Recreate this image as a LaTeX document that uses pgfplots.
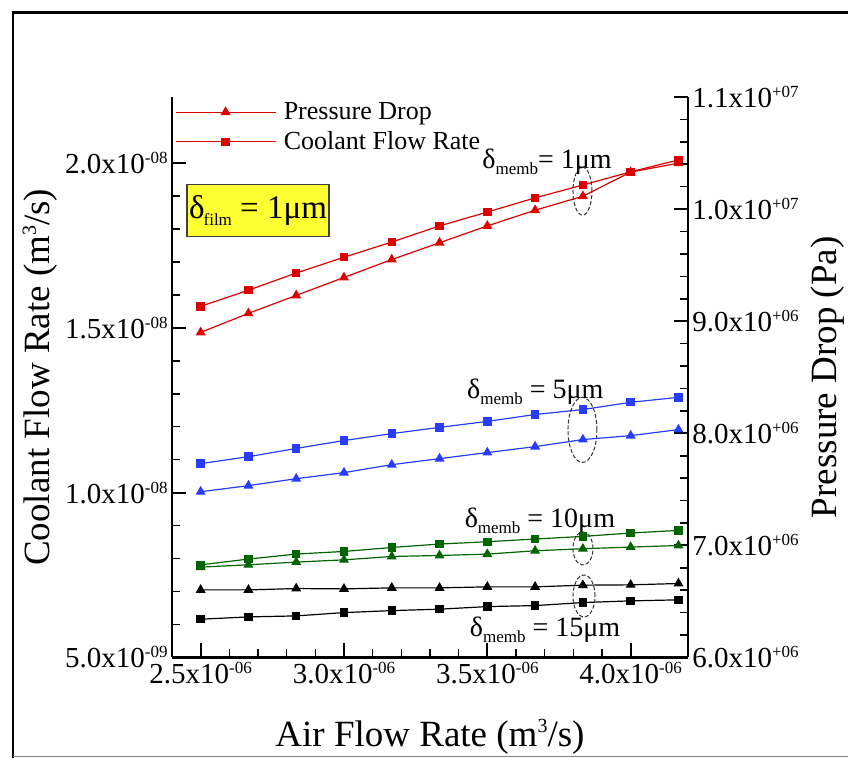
\documentclass[border=0pt]{standalone}
\usepackage{fontspec}
\setmainfont{Liberation Serif}
\usepackage{pgfplots}
\pgfplotsset{compat=1.18}
\usepackage{pgfplotstable}

\definecolor{cred}{RGB}{220,0,0}
\definecolor{cblue}{RGB}{40,60,255}
\definecolor{cgreen}{RGB}{0,100,0}
\definecolor{boxyellow}{RGB}{255,255,50}

% x = air flow rate, q = coolant flow rate, p = pressure drop
\pgfplotstableread{
x          q          p
2.5e-6     1.565e-8   8.90e6
2.6667e-6  1.614e-8   9.07e6
2.8333e-6  1.666e-8   9.23e6
3.0e-6     1.714e-8   9.39e6
3.1667e-6  1.760e-8   9.55e6
3.3333e-6  1.809e-8   9.70e6
3.5e-6     1.851e-8   9.85e6
3.6667e-6  1.894e-8   9.99e6
3.8333e-6  1.933e-8   1.0115e7
4.0e-6     1.973e-8   1.033e7
4.1667e-6  2.009e-8   1.041e7
}\memba
\pgfplotstableread{
x          q          p
2.5e-6     1.088e-8   7.479e6
2.6667e-6  1.109e-8   7.533e6
2.8333e-6  1.134e-8   7.595e6
3.0e-6     1.158e-8   7.649e6
3.1667e-6  1.179e-8   7.720e6
3.3333e-6  1.198e-8   7.774e6
3.5e-6     1.216e-8   7.828e6
3.6667e-6  1.237e-8   7.881e6
3.8333e-6  1.252e-8   7.944e6
4.0e-6     1.274e-8   7.979e6
4.1667e-6  1.289e-8   8.033e6
}\membb
\pgfplotstableread{
x          q          p
2.5e-6     7.81e-9    6.806e6
2.6667e-6  7.985e-9   6.827e6
2.8333e-6  8.137e-9   6.851e6
3.0e-6     8.216e-9   6.871e6
3.1667e-6  8.337e-9   6.901e6
3.3333e-6  8.441e-9   6.910e6
3.5e-6     8.511e-9   6.922e6
3.6667e-6  8.593e-9   6.952e6
3.8333e-6  8.672e-9   6.970e6
4.0e-6     8.775e-9   6.985e6
4.1667e-6  8.854e-9   6.999e6
}\membc
\pgfplotstableread{
x          q          p
2.5e-6     6.161e-9   6.603e6
2.6667e-6  6.231e-9   6.603e6
2.8333e-6  6.261e-9   6.615e6
3.0e-6     6.362e-9   6.612e6
3.1667e-6  6.422e-9   6.621e6
3.3333e-6  6.465e-9   6.621e6
3.5e-6     6.544e-9   6.630e6
3.6667e-6  6.574e-9   6.630e6
3.8333e-6  6.666e-9   6.645e6
4.0e-6     6.717e-9   6.648e6
4.1667e-6  6.748e-9   6.660e6
}\membd

\pgfplotsset{
  common/.style={
    width=258pt, height=280.25pt, scale only axis,
    xmin=2.4e-6, xmax=4.2e-6,
    scaled x ticks=false, scaled y ticks=false,
    axis line style={-, line width=1.3pt},
    tick align=inside,
    major tick length=7pt, minor tick length=4pt,
    major tick style={black, line width=1pt},
    minor tick style={black, line width=0.8pt},
    ticklabel style={font=\fontsize{14.5}{16}\selectfont, inner sep=2pt},
    label style={font=\fontsize{18.5}{20}\selectfont},
  },
  sq/.style={line width=0.6pt, mark=square*, mark size=1.8pt, mark options={solid}},
  tri/.style={line width=0.6pt, mark=triangle*, mark size=2.3pt, mark options={solid}},
}

\newcommand{\annot}{\fontsize{14}{16}\selectfont}
\newcommand{\sub}[1]{\raisebox{-0.45ex}{\fontsize{8.5}{9}\selectfont #1}}
\newcommand{\sps}[1]{\raisebox{0.75ex}{\fontsize{8.5}{9}\selectfont #1}}

\begin{document}
\begin{tikzpicture}
\useasboundingbox (-86pt,-50.25pt) rectangle (338pt,328.75pt);
\draw[line width=1.3pt] (-79.5pt,-52pt) -- (-79.5pt,322.5pt) -- (345pt,322.5pt);
\draw[gray, line width=0.8pt] (-79.5pt,-49.5pt) -- (345pt,-49.5pt);

\begin{axis}[common,
  axis x line*=bottom, axis y line*=left,
  ymin=5e-9, ymax=2.2e-8,
  xtick={2.5e-6,3e-6,3.5e-6,4e-6},
  xticklabels={2.5x10\sps{-06},3.0x10\sps{-06},3.5x10\sps{-06},4.0x10\sps{-06}},
  minor x tick num=4,
  ytick={5e-9,1e-8,1.5e-8,2e-8},
  yticklabels={5.0x10\sps{-09},1.0x10\sps{-08},1.5x10\sps{-08},2.0x10\sps{-08}},
  minor y tick num=4,
  xlabel={Air Flow Rate (m\raisebox{0.8ex}{\fontsize{10}{10}\selectfont 3}/s)},
  ylabel={Coolant Flow Rate (m\raisebox{0.8ex}{\fontsize{10}{10}\selectfont 3}/s)},
  xlabel style={at={(axis description cs:0.5,-0.142)}, anchor=center},
  ylabel style={at={(axis description cs:-0.256,0.5)}, anchor=center},
]
\addplot[cred, sq] table[x=x, y=q] {\memba};
\addplot[cblue, sq] table[x=x, y=q] {\membb};
\addplot[cgreen, sq] table[x=x, y=q] {\membc};
\addplot[black, sq] table[x=x, y=q] {\membd};

\node[draw=black!75, fill=boxyellow, line width=0.6pt, minimum width=65pt, minimum height=26pt,
      inner sep=1pt, font=\fontsize{16.5}{18}\selectfont]
  at (rel axis cs:0.1667,0.798) {δ\kern-0.5pt\sub{film} = 1μm};

\begin{scope}[every node/.style={font=\annot, inner sep=0pt}]
\node at (rel axis cs:0.727,0.885) {δ\sub{memb}= 1μm};
\node at (rel axis cs:0.704,0.474) {δ\sub{memb} = 5μm};
\node at (rel axis cs:0.713,0.2435) {δ\sub{memb} = 10μm};
\node at (rel axis cs:0.723,0.049) {δ\sub{memb} = 15μm};
\end{scope}

\begin{scope}[black!80, line width=0.5pt, dash pattern=on 2pt off 1pt]
\draw (rel axis cs:0.7955,0.832) ellipse [x radius=4.75pt, y radius=12pt];
\draw (rel axis cs:0.7955,0.406) ellipse [x radius=7.25pt, y radius=16.25pt];
\draw (rel axis cs:0.7965,0.1945) ellipse [x radius=5pt, y radius=8.25pt];
\draw (rel axis cs:0.7985,0.1097) ellipse [x radius=5.5pt, y radius=10.5pt];
\end{scope}
\end{axis}

\begin{axis}[common,
  hide x axis, axis y line*=right,
  ymin=6e6, ymax=1.1e7,
  ytick={6e6,7e6,8e6,9e6,1e7,1.1e7},
  yticklabels={6.0x10\sps{+06},7.0x10\sps{+06},8.0x10\sps{+06},9.0x10\sps{+06},1.0x10\sps{+07},1.1x10\sps{+07}},
  minor y tick num=4,
  ylabel={Pressure Drop (Pa)},
  ylabel style={at={(axis description cs:1.271,0.5)}, anchor=center},
  legend style={at={(axis description cs:0.005,0.946)}, anchor=west, draw=none, fill=none,
    font=\fontsize{13}{14}\selectfont, row sep=3pt, inner sep=0pt,
    nodes={inner sep=0.8pt}},
  legend cell align=left,
  legend image code/.code={\draw[mark repeat=2, mark phase=2] plot coordinates {(0pt,0pt) (25pt,0pt) (50pt,0pt)};},
]
\addlegendimage{cred, tri}
\addlegendentry{\hspace{3pt}Pressure Drop}
\addlegendimage{cred, sq}
\addlegendentry{\hspace{3pt}Coolant Flow Rate}
\addplot[cred, tri, forget plot] table[x=x, y=p] {\memba};
\addplot[cblue, tri, forget plot] table[x=x, y=p] {\membb};
\addplot[cgreen, tri, forget plot] table[x=x, y=p] {\membc};
\addplot[black, tri, forget plot] table[x=x, y=p] {\membd};
\end{axis}
\end{tikzpicture}
\end{document}
